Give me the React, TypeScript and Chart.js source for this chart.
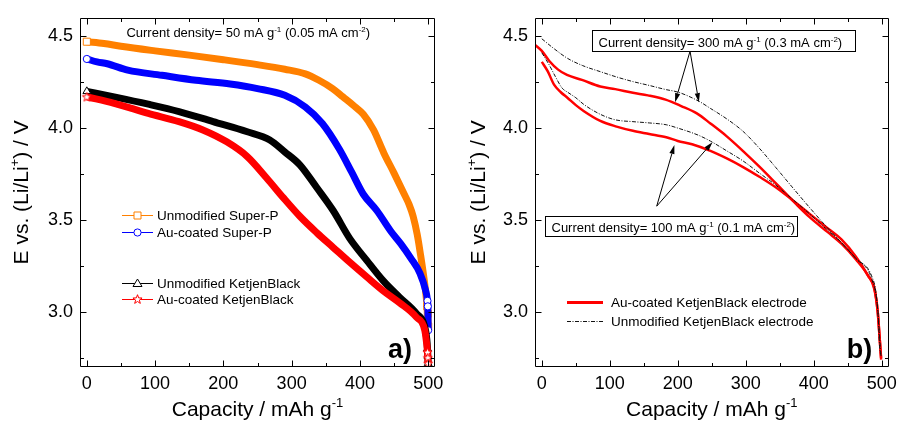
import React, { useEffect, useRef } from 'react';
import { Chart, registerables } from 'chart.js';

Chart.register(...registerables);

const FONT = '"Liberation Sans", Arial, Helvetica, sans-serif';

// ---------- shared axes ----------
const xTickValues = [0, 100, 200, 300, 400, 500];
const xMinorValues = [50, 150, 250, 350, 450];
const yTickValues = [3.0, 3.5, 4.0, 4.5];
const yMinorValues = [2.75, 3.25, 3.75, 4.25];

// ---------- panel a (50 mA g-1) ----------
const spUnmodX = [0, 25, 50, 100, 150, 200, 250, 290, 320, 340, 360, 375, 390, 405, 420, 435, 450, 465, 472, 478, 484, 488, 495, 498.5, 499.5, 500];
const spUnmodY = [4.47, 4.46, 4.445, 4.42, 4.397, 4.372, 4.345, 4.32, 4.295, 4.26, 4.215, 4.17, 4.125, 4.075, 3.99, 3.865, 3.755, 3.64, 3.585, 3.52, 3.42, 3.33, 3.15, 3.03, 2.99, 2.92];

const spAuX = [0, 15, 30, 60, 110, 160, 210, 250, 290, 320, 345, 370, 388, 405, 425, 445, 460, 475, 488, 496, 499, 499.5, 500];
const spAuY = [4.376, 4.36, 4.35, 4.315, 4.287, 4.26, 4.24, 4.215, 4.178, 4.115, 4.025, 3.885, 3.76, 3.64, 3.55, 3.44, 3.37, 3.29, 3.21, 3.12, 3.06, 3.03, 2.9];

const kbUnmodX = [0, 40, 90, 135, 185, 235, 268, 290, 312, 337, 361, 385, 410, 434, 458, 483, 495, 498, 499, 499.5, 500];
const kbUnmodY = [4.2, 4.17, 4.13, 4.09, 4.035, 3.98, 3.935, 3.87, 3.8, 3.675, 3.55, 3.4, 3.28, 3.17, 3.08, 2.99, 2.92, 2.85, 2.8, 2.76, 2.72];

const kbAuX = [0, 40, 90, 135, 170, 205, 235, 263, 288, 312, 337, 361, 385, 410, 434, 458, 483, 495, 498, 499, 499.5, 500];
const kbAuY = [4.17, 4.135, 4.08, 4.035, 3.99, 3.925, 3.845, 3.73, 3.62, 3.52, 3.43, 3.35, 3.27, 3.19, 3.115, 3.05, 2.97, 2.9, 2.82, 2.78, 2.75, 2.72];

const labelsA = ['Unmodified Super-P', 'Au-coated Super-P', 'Unmodified KetjenBlack', 'Au-coated KetjenBlack'];
const colorsA = ['#ff8000', '#0000ff', '#000000', '#ff0000'];

// ---------- panel b (KetjenBlack, 300 and 100 mA g-1) ----------
const au300X = [-10, 0, 11, 24, 37, 59, 86, 108, 134, 156, 182, 205, 228, 248, 272, 296, 320, 344, 373, 393, 420, 441, 462, 480, 489, 494, 497, 499];
const au300Y = [4.453, 4.42, 4.365, 4.318, 4.289, 4.262, 4.226, 4.212, 4.192, 4.178, 4.155, 4.12, 4.08, 4.025, 3.955, 3.875, 3.79, 3.7, 3.59, 3.518, 3.435, 3.37, 3.285, 3.196, 3.125, 3.0, 2.85, 2.75];

const au100X = [0, 9, 18, 28, 38, 50, 62, 86, 110, 134, 158, 183, 200, 221, 248, 272, 296, 320, 344, 368, 393, 417, 441, 462, 480, 489, 494, 497, 499];
const au100Y = [4.36, 4.307, 4.236, 4.195, 4.164, 4.125, 4.092, 4.039, 4.008, 3.985, 3.968, 3.95, 3.93, 3.912, 3.876, 3.835, 3.788, 3.735, 3.678, 3.61, 3.536, 3.465, 3.393, 3.3, 3.196, 3.13, 3.0, 2.85, 2.74];

const un300X = [0, 18, 38, 60, 86, 110, 134, 158, 183, 200, 231, 248, 272, 296, 320, 344, 368, 393, 417, 441, 462, 485, 492, 495, 497, 499];
const un300Y = [4.486, 4.432, 4.379, 4.34, 4.307, 4.278, 4.253, 4.232, 4.209, 4.196, 4.146, 4.107, 4.05, 3.982, 3.89, 3.786, 3.68, 3.571, 3.47, 3.375, 3.29, 3.196, 3.09, 2.95, 2.8, 2.76];

const un100X = [0, 5, 11, 20, 30, 38, 50, 62, 86, 108, 134, 158, 183, 200, 231, 248, 272, 296, 320, 344, 368, 393, 417, 441, 462, 485, 494, 498, 499];
const un100Y = [4.41, 4.38, 4.343, 4.28, 4.217, 4.195, 4.165, 4.128, 4.075, 4.045, 4.035, 4.028, 4.018, 4.0, 3.96, 3.929, 3.876, 3.821, 3.755, 3.69, 3.615, 3.536, 3.455, 3.375, 3.29, 3.18, 3.018, 2.8, 2.76];

const labelsB = ['Au-coated KetjenBlack electrode', 'Unmodified KetjenBlack electrode'];

type Part = [string, boolean?];
const xTitleParts: Part[] = [['Capacity / mAh g'], ['-1', true]];
const yTitleParts: Part[] = [['E vs. (Li/Li'], ['+', true], [') / V']];
const noteA: Part[] = [['Current density= 50 mA g'], ['-1', true], [' (0.05 mA cm'], ['-2', true], [')']];
const note300: Part[] = [['Current density= 300 mA g'], ['-1', true], [' (0.3 mA cm'], ['-2', true], [')']];
const note100: Part[] = [['Current density= 100 mA g'], ['-1', true], [' (0.1 mA cm'], ['-2', true], [')']];

const toPts = (xs: number[], ys: number[]) => xs.map((x, i) => ({ x, y: ys[i] }));

function drawRich(ctx: CanvasRenderingContext2D, parts: Part[], x: number, y: number, size: number, align: 'left' | 'center' = 'left', weight = 'normal') {
  const fontFor = (sup?: boolean) => `${weight} ${sup ? size * 0.62 : size}px ${FONT}`;
  const widths = parts.map(([t, sup]) => { ctx.font = fontFor(sup); return ctx.measureText(t).width; });
  const total = widths.reduce((s, w) => s + w, 0);
  let cx = align === 'center' ? x - total / 2 : x;
  ctx.textAlign = 'left';
  parts.forEach(([t, sup], i) => {
    ctx.font = fontFor(sup);
    ctx.fillText(t, cx, sup ? y - size * 0.42 : y);
    cx += widths[i];
  });
  return total;
}

function starPath(g: CanvasRenderingContext2D, cx: number, cy: number, R: number, r: number) {
  g.beginPath();
  for (let i = 0; i < 10; i++) {
    const ang = -Math.PI / 2 + (i * Math.PI) / 5;
    const rad = i % 2 === 0 ? R : r;
    const px = cx + rad * Math.cos(ang);
    const py = cy + rad * Math.sin(ang);
    if (i === 0) g.moveTo(px, py); else g.lineTo(px, py);
  }
  g.closePath();
}

function starCanvas(color: string) {
  const c = document.createElement('canvas');
  c.width = 11; c.height = 11;
  const g = c.getContext('2d')!;
  starPath(g, 5.5, 5.8, 4.8, 2);
  g.fillStyle = '#fff'; g.fill();
  g.strokeStyle = color; g.lineWidth = 1; g.stroke();
  return c;
}

function drawMarker(ctx: CanvasRenderingContext2D, kind: string, x: number, y: number, color: string) {
  ctx.save();
  ctx.strokeStyle = color; ctx.fillStyle = '#fff'; ctx.lineWidth = 1;
  ctx.beginPath();
  if (kind === 'rect') ctx.rect(x - 3.5, y - 3.5, 7, 7);
  else if (kind === 'circle') ctx.arc(x, y, 3.6, 0, Math.PI * 2);
  else if (kind === 'triangle') { ctx.moveTo(x, y - 4.5); ctx.lineTo(x + 4.5, y + 3); ctx.lineTo(x - 4.5, y + 3); ctx.closePath(); }
  else starPath(ctx, x, y, 4.8, 2);
  ctx.fill(); ctx.stroke();
  ctx.restore();
}

function drawFrame(chart: any) {
  const { ctx, chartArea: a } = chart;
  const xs = chart.scales.x, ys = chart.scales.y;
  const L = Math.round(a.left) + 0.5, R = Math.round(a.right) - 0.5, T = Math.round(a.top) + 0.5, B = Math.round(a.bottom) - 0.5;
  ctx.save();
  ctx.strokeStyle = '#000'; ctx.lineWidth = 1;
  ctx.beginPath();
  ctx.rect(L, T, R - L, B - T);
  const xt = (vals: number[], len: number) => vals.forEach((v) => {
    const p = Math.round(xs.getPixelForValue(v)) + 0.5;
    ctx.moveTo(p, B); ctx.lineTo(p, B - len); ctx.moveTo(p, T); ctx.lineTo(p, T + len);
  });
  const yt = (vals: number[], len: number) => vals.forEach((v) => {
    const p = Math.round(ys.getPixelForValue(v)) + 0.5;
    ctx.moveTo(L, p); ctx.lineTo(L + len, p); ctx.moveTo(R, p); ctx.lineTo(R - len, p);
  });
  xt(xTickValues, 6); xt(xMinorValues, 3.5); yt(yTickValues, 6); yt(yMinorValues, 3.5);
  ctx.stroke();
  ctx.restore();
}

function drawAxisTitles(chart: any, yTitleX: number) {
  const { ctx, chartArea: a } = chart;
  ctx.save();
  ctx.fillStyle = '#000'; ctx.textBaseline = 'alphabetic';
  drawRich(ctx, xTitleParts, (a.left + a.right) / 2, 416, 21, 'center');
  ctx.translate(yTitleX, (a.top + a.bottom) / 2);
  ctx.rotate(-Math.PI / 2);
  drawRich(ctx, yTitleParts, 0, 0, 21, 'center');
  ctx.restore();
}

function baseOptions(yAxisWidth: number, padding: any, extra: any) {
  const tickFont = { family: FONT, size: 18 };
  return {
    responsive: false,
    animation: false,
    events: [],
    layout: { padding },
    plugins: { legend: { display: false }, tooltip: { enabled: false } },
    scales: {
      x: {
        type: 'linear', min: -10, max: 510,
        grid: { display: false, drawTicks: false }, border: { display: false },
        ticks: { color: '#000', font: tickFont, padding: 6, callback: (v: any) => String(v) },
        afterBuildTicks: (s: any) => { s.ticks = xTickValues.map((v) => ({ value: v })); },
        afterFit: (s: any) => { s.height = 55; },
      },
      y: {
        type: 'linear', min: 2.7, max: 4.6,
        grid: { display: false, drawTicks: false }, border: { display: false },
        ticks: { color: '#000', font: tickFont, padding: 7, callback: (v: any) => Number(v).toFixed(1) },
        afterBuildTicks: (s: any) => { s.ticks = yTickValues.map((v) => ({ value: v })); },
        afterFit: (s: any) => { s.width = yAxisWidth; },
      },
    },
    ...extra,
  };
}

function configA(): any {
  const markers: any[] = ['rect', 'circle', 'triangle', starCanvas('#ff0000')];
  const legendKinds = ['rect', 'circle', 'triangle', 'star'];
  const radii = [5, 3.6, 4.5, 4.5];
  const xsA = [spUnmodX, spAuX, kbUnmodX, kbAuX];
  const ysA = [spUnmodY, spAuY, kbUnmodY, kbAuY];
  const orders = [4, 3, 2, 1];
  const datasets = labelsA.map((label, i) => ({
    label,
    data: toPts(xsA[i], ysA[i]),
    borderColor: colorsA[i],
    borderWidth: 7,
    cubicInterpolationMode: 'monotone',
    fill: false,
    order: orders[i],
    pointStyle: markers[i],
    pointRadius: (c: any) => (c.raw && (c.raw.x <= 0 || c.raw.x >= 498.5) ? radii[i] : 0),
    pointBackgroundColor: '#fff',
    pointBorderColor: colorsA[i],
    pointBorderWidth: 1,
  }));
  const decor = {
    id: 'decorA',
    afterDraw(chart: any) {
      const { ctx } = chart;
      const xs = chart.scales.x, ys = chart.scales.y;
      drawFrame(chart);
      drawAxisTitles(chart, 28);
      ctx.save();
      ctx.fillStyle = '#000';
      ctx.textBaseline = 'alphabetic';
      drawRich(ctx, noteA, xs.getPixelForValue(58), ys.getPixelForValue(4.493), 13);
      ctx.font = `bold 27px ${FONT}`;
      ctx.textAlign = 'left';
      ctx.fillText('a)', xs.getPixelForValue(441), ys.getPixelForValue(2.749));
      // legend
      const rows = [215, 232, 283, 299];
      rows.forEach((ry, i) => {
        ctx.strokeStyle = colorsA[i];
        ctx.lineWidth = 1;
        ctx.beginPath(); ctx.moveTo(122, ry + 0.5); ctx.lineTo(153, ry + 0.5); ctx.stroke();
        drawMarker(ctx, legendKinds[i], 137.5, ry + 0.5, colorsA[i]);
        ctx.fillStyle = '#000';
        ctx.textBaseline = 'middle';
        ctx.textAlign = 'left';
        ctx.font = `13.5px ${FONT}`;
        ctx.fillText(labelsA[i], 157, ry + 1);
      });
      ctx.restore();
    },
  };
  return {
    type: 'line',
    data: { datasets },
    options: baseOptions(80, { top: 15, right: 15, left: 0, bottom: 0 }, {}),
    plugins: [decor],
  };
}

function configB(): any {
  const dashed = [4, 1.5, 1, 1.5];
  const datasets = [
    { label: labelsB[1], data: toPts(un300X, un300Y), borderColor: '#111', borderWidth: 1, borderDash: dashed, order: 1 },
    { label: labelsB[1], data: toPts(un100X, un100Y), borderColor: '#111', borderWidth: 1, borderDash: dashed, order: 1 },
    { label: labelsB[0], data: toPts(au300X, au300Y), borderColor: '#ff0000', borderWidth: 2.5, order: 2 },
    { label: labelsB[0], data: toPts(au100X, au100Y), borderColor: '#ff0000', borderWidth: 2.5, order: 2 },
  ].map((d) => ({ ...d, pointRadius: 0, fill: false, cubicInterpolationMode: 'monotone' }));

  const boxes = [
    { x0: 74, x1: 460, y0: 4.531, y1: 4.418, parts: note300 },
    { x0: 4, x1: 376, y0: 3.524, y1: 3.413, parts: note100 },
  ];
  const arrows = [
    { from: [218, 4.418], to: [196, 4.141] },
    { from: [218, 4.418], to: [231, 4.141] },
    { from: [169, 3.575], to: [195, 3.908] },
    { from: [169, 3.575], to: [251, 3.923] },
  ];

  const decor = {
    id: 'decorB',
    afterDraw(chart: any) {
      const { ctx } = chart;
      const xs = chart.scales.x, ys = chart.scales.y;
      drawFrame(chart);
      drawAxisTitles(chart, 35);
      ctx.save();
      // arrows
      ctx.strokeStyle = '#000'; ctx.fillStyle = '#000'; ctx.lineWidth = 1;
      arrows.forEach(({ from, to }) => {
        const x1 = xs.getPixelForValue(from[0]), y1 = ys.getPixelForValue(from[1]);
        const x2 = xs.getPixelForValue(to[0]), y2 = ys.getPixelForValue(to[1]);
        const ang = Math.atan2(y2 - y1, x2 - x1);
        const hl = 9, hw = 2.6;
        const bx = x2 - hl * Math.cos(ang), by = y2 - hl * Math.sin(ang);
        ctx.beginPath(); ctx.moveTo(x1, y1); ctx.lineTo(bx, by); ctx.stroke();
        ctx.beginPath();
        ctx.moveTo(x2, y2);
        ctx.lineTo(bx + hw * Math.sin(ang), by - hw * Math.cos(ang));
        ctx.lineTo(bx - hw * Math.sin(ang), by + hw * Math.cos(ang));
        ctx.closePath(); ctx.fill();
      });
      // boxes
      boxes.forEach((b) => {
        const l = Math.round(xs.getPixelForValue(b.x0)) + 0.5, r = Math.round(xs.getPixelForValue(b.x1)) + 0.5;
        const t = Math.round(ys.getPixelForValue(b.y0)) + 0.5, bt = Math.round(ys.getPixelForValue(b.y1)) + 0.5;
        ctx.fillStyle = '#fff';
        ctx.fillRect(l, t, r - l, bt - t);
        ctx.strokeStyle = '#000';
        ctx.strokeRect(l, t, r - l, bt - t);
        ctx.fillStyle = '#000';
        ctx.textBaseline = 'alphabetic';
        drawRich(ctx, b.parts, l + 6, bt - 4.5, 13);
      });
      ctx.fillStyle = '#000';
      ctx.font = `bold 27px ${FONT}`;
      ctx.textAlign = 'left';
      ctx.textBaseline = 'alphabetic';
      ctx.fillText('b)', xs.getPixelForValue(448.4), ys.getPixelForValue(2.749));
      // legend
      const rows = [302, 321];
      rows.forEach((ry, i) => {
        ctx.beginPath();
        if (i === 0) { ctx.strokeStyle = '#ff0000'; ctx.lineWidth = 3; ctx.setLineDash([]); }
        else { ctx.strokeStyle = '#111'; ctx.lineWidth = 1; ctx.setLineDash(dashed); }
        ctx.moveTo(117, ry + 0.5); ctx.lineTo(153, ry + 0.5); ctx.stroke();
        ctx.setLineDash([]);
        ctx.fillStyle = '#000';
        ctx.textBaseline = 'middle';
        ctx.font = `13.5px ${FONT}`;
        ctx.fillText(labelsB[i], 161, ry + 1);
      });
      ctx.restore();
    },
  };
  return {
    type: 'line',
    data: { datasets },
    options: baseOptions(85, { top: 12, right: 10, left: 0, bottom: 0 }, {}),
    plugins: [decor],
  };
}

function Panel({ make, left, width }: { make: () => any; left: number; width: number }) {
  const ref = useRef<HTMLCanvasElement>(null);
  useEffect(() => {
    const chart = new Chart(ref.current as HTMLCanvasElement, make());
    return () => chart.destroy();
  }, []);
  return (
    <canvas
      ref={ref}
      width={width}
      height={422}
      style={{ position: 'absolute', left, top: 0, width, height: 422, display: 'block' }}
    />
  );
}

export default function App() {
  return (
    <div style={{ position: 'absolute', left: 0, top: 0, width: 903, height: 422, background: '#fff' }}>
      <Panel make={configA} left={0} width={450} />
      <Panel make={configB} left={450} width={453} />
    </div>
  );
}
